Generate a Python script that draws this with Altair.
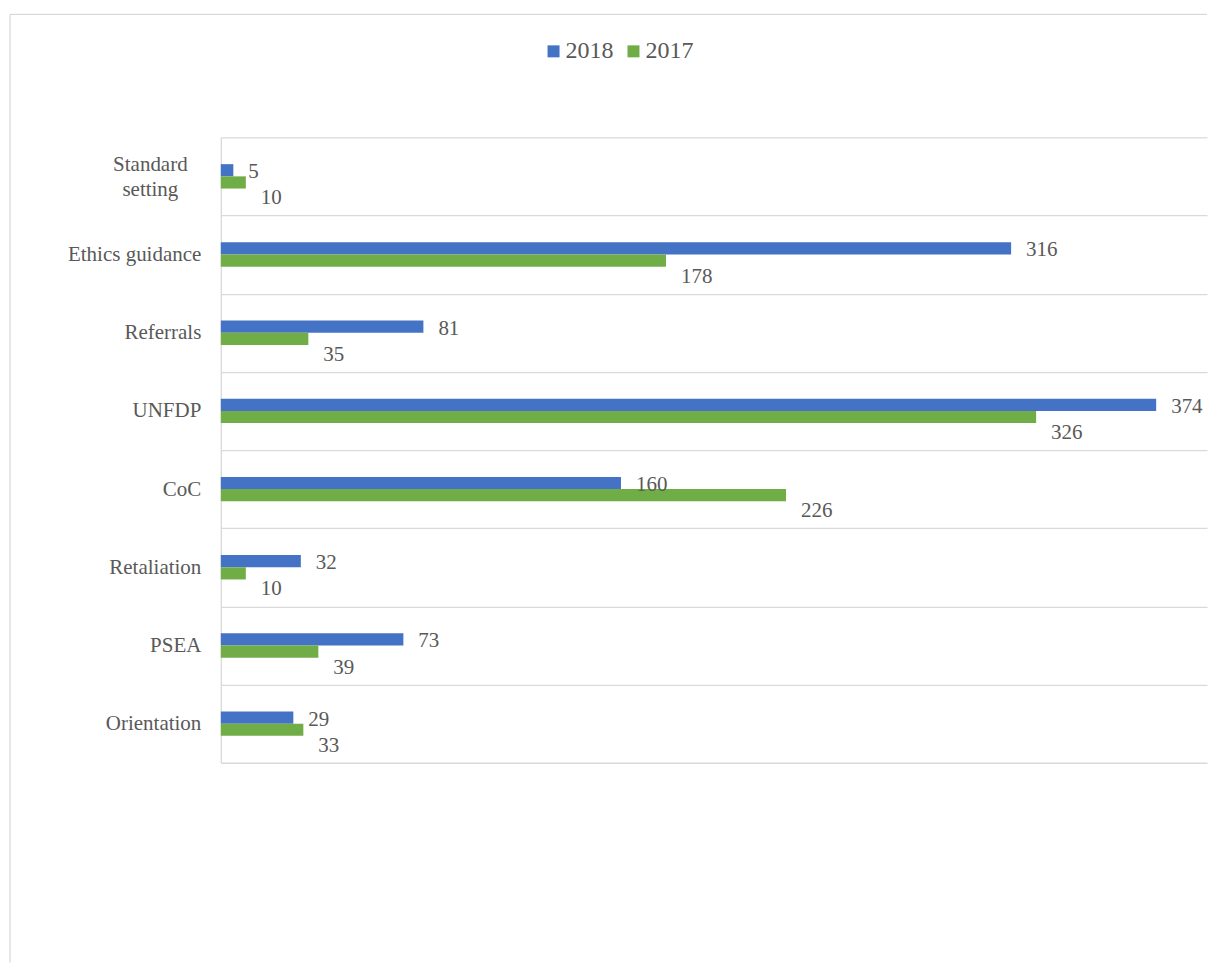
import altair as alt
import pandas as pd

categories = ["Standard setting", "Ethics guidance", "Referrals", "UNFDP",
              "CoC", "Retaliation", "PSEA", "Orientation"]
series = ["2018", "2017"]
values_2018 = [5, 316, 81, 374, 160, 32, 73, 29]
values_2017 = [10, 178, 35, 326, 226, 10, 39, 33]
colors = ["#4472C4", "#70AD47"]

rows = []
for c, a, b in zip(categories, values_2018, values_2017):
    rows.append({"category": c, "series": "2018", "value": a})
    rows.append({"category": c, "series": "2017", "value": b})
df = pd.DataFrame(rows)

W = 987
H = 626
FONT = "Liberation Serif"
GRAY = "#595959"
LINE = "#d9d9d9"
IS_TWO_LINE = "datum.value == 'Standard setting'"

x_enc = alt.X("value:Q", scale=alt.Scale(domain=[0, W / 2.503], nice=False, zero=True),
              axis=None)
y_enc = alt.Y("category:N", sort=categories,
              scale=alt.Scale(paddingInner=0, paddingOuter=0),
              axis=alt.Axis(title=None, ticks=False, domain=True, domainColor=LINE,
                            domainWidth=1.3, grid=True, gridColor=LINE, gridWidth=1.3,
                            tickBand="extent", labelFont=FONT, labelFontSize=21,
                            labelColor=GRAY, labelLimit=300,
                            labelPadding={"condition": {"test": IS_TWO_LINE, "value": 71}, "value": 20},
                            labelAlign={"condition": {"test": IS_TWO_LINE, "value": "center"}, "value": "right"},
                            labelOffset={"condition": {"test": IS_TWO_LINE, "value": -12}, "value": 0},
                            labelExpr="datum.value == 'Standard setting' ? ['Standard', 'setting'] : datum.value",
                            labelLineHeight=25))
yoff_enc = alt.YOffset("series:N", sort=series,
                       scale=alt.Scale(paddingInner=0, paddingOuter=0, range=[26.9, 51.3]))

base = alt.Chart(df)

bars = base.mark_bar().encode(
    x=x_enc,
    y=y_enc,
    yOffset=yoff_enc,
    color=alt.Color("series:N", sort=series,
                    scale=alt.Scale(domain=series, range=colors),
                    legend=alt.Legend(title=None, orient="none", legendX=321, legendY=-98,
                                      direction="horizontal", symbolType="square",
                                      symbolSize=144, symbolStrokeWidth=0,
                                      labelFont=FONT, labelFontSize=24, labelColor=GRAY,
                                      columnPadding=8, labelOffset=0, padding=0)),
)

text18 = base.transform_filter(alt.datum.series == "2018").mark_text(
    align="left", baseline="middle", dx=15, dy=2, font=FONT, fontSize=21, color=GRAY
).encode(x=x_enc, y=y_enc, yOffset=yoff_enc, text="value:Q")

text17 = base.transform_filter(alt.datum.series == "2017").mark_text(
    align="left", baseline="middle", dx=15, dy=16, font=FONT, fontSize=21, color=GRAY
).encode(x=x_enc, y=y_enc, yOffset=yoff_enc, text="value:Q")

dummy = pd.DataFrame({"a": [0]})
frame_v = alt.Chart(dummy).mark_rule(color=LINE, strokeWidth=1.3).encode(
    x=alt.value(-211), y=alt.value(-123), y2=alt.value(826))
frame_h = alt.Chart(dummy).mark_rule(color=LINE, strokeWidth=1.3).encode(
    x=alt.value(-211), x2=alt.value(W), y=alt.value(-123))

chart = alt.layer(frame_v, frame_h, bars, text18, text17).properties(
    width=W, height=H,
    padding={"left": 9, "top": 13, "right": 0, "bottom": 0},
    background="white",
).configure_view(stroke="transparent")

chart.save("out.html", embed_options={"renderer": "svg", "actions": False})
